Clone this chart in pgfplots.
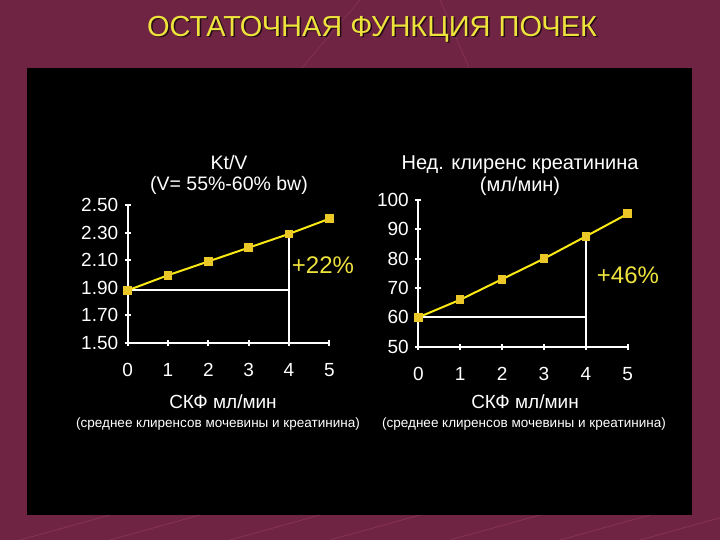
\documentclass[border=0pt]{standalone}
\usepackage{pgfplots}
\pgfplotsset{compat=1.18}
\usepackage{fontspec}
\setmainfont{Liberation Sans}

\definecolor{bgmaroon}{RGB}{112,36,68}
\definecolor{bgline}{RGB}{150,60,95}
\definecolor{lineyel}{RGB}{250,232,20}
\definecolor{markyel}{RGB}{235,200,40}
\definecolor{txtyel}{RGB}{238,226,60}

\pgfplotsset{
  kidney/.style={
    scale only axis,
    axis lines=left,
    axis line style={white, line width=2pt, -},
    tick style={white, line width=2pt},
    major tick length=6pt,
    tick align=center,
    xmin=0, xmax=5,
    xtick={0,1,2,3,4,5},
    ticklabel style={white, font=\fontsize{19}{19}\selectfont},
    xticklabel style={yshift=-14pt},
    yticklabel style={xshift=-3pt},
    /pgf/number format/assume math mode=true,
    clip=false,
  },
  trend/.style={lineyel, line width=2pt, mark=square*, mark size=3.3pt,
    mark options={fill=markyel, draw=markyel}},
  refl/.style={white, line width=2pt, no marks},
}

\begin{document}
\begin{tikzpicture}[x=1pt,y=1pt]
\useasboundingbox (0,0) rectangle (720,540);
\begin{scope}
\clip (0,0) rectangle (720,540);
% background
\fill[bgmaroon] (0,0) rectangle (720,540);
\foreach \a in {20, 110, 230, 330, 450, 560, 640}
  \draw[bgline, line width=0.8pt, opacity=0.6] (\a,0) -- (\a+90,25);
\draw[bgline, line width=0.8pt, opacity=0.5] (300,470) -- (360,540);
\draw[bgline, line width=0.8pt, opacity=0.5] (470,470) -- (440,540);
\end{scope}
\fill[black] (27,25) rectangle (692,472);

% page title
\node[black!70!bgmaroon, font=\fontsize{29}{29}\selectfont] at (373.5,509.5) {ОСТАТОЧНАЯ ФУНКЦИЯ ПОЧЕК};
\node[txtyel, font=\fontsize{29}{29}\selectfont] at (372,511) {ОСТАТОЧНАЯ ФУНКЦИЯ ПОЧЕК};

% left: Kt/V
\begin{axis}[kidney,
  at={(127.7pt,197.3pt)}, anchor=south west,
  width=201.6pt, height=137.7pt,
  ymin=1.5, ymax=2.5,
  ytick={1.5,1.7,1.9,2.1,2.3,2.5},
  yticklabel style={/pgf/number format/.cd, fixed, fixed zerofill, precision=2},
]
\addplot[refl] coordinates {(0,1.88) (4,1.88)};
\addplot[refl] coordinates {(4,1.5) (4,2.29)};
\addplot[trend] coordinates {(0,1.88) (1,1.99) (2,2.09) (3,2.19) (4,2.29) (5,2.40)};
\end{axis}

% right: weekly creatinine clearance
\begin{axis}[kidney,
  at={(418.3pt,193.3pt)}, anchor=south west,
  width=209.4pt, height=146.7pt,
  ymin=50, ymax=100,
  ytick={50,60,70,80,90,100},
]
\addplot[refl] coordinates {(0,60) (4,60)};
\addplot[refl] coordinates {(4,50) (4,87.6)};
\addplot[trend] coordinates {(0,60) (1,66) (2,73) (3,80) (4,87.6) (5,95.3)};
\end{axis}

% chart titles
\node[white, font=\fontsize{19.5}{19.5}\selectfont] at (229,377) {Kt/V};
\node[white, font=\fontsize{19.5}{19.5}\selectfont] at (229,355) {(V= 55\%-60\% bw)};
\node[white, font=\fontsize{20}{20}\selectfont] at (520,375) {Нед. клиренс креатинина};
\node[white, font=\fontsize{20}{20}\selectfont] at (520,354) {(мл/мин)};

% increase labels
\node[txtyel, font=\fontsize{24}{24}\selectfont] at (323,275) {+22\%};
\node[txtyel, font=\fontsize{24}{24}\selectfont] at (628,265) {+46\%};

% x axis captions
\node[white, font=\fontsize{19}{19}\selectfont] at (223,138) {СКФ мл/мин};
\node[white, font=\fontsize{13.5}{13.5}\selectfont] at (218,116) {(среднее клиренсов мочевины и креатинина)};
\node[white, font=\fontsize{19}{19}\selectfont] at (525,138) {СКФ мл/мин};
\node[white, font=\fontsize{13.5}{13.5}\selectfont] at (524,116) {(среднее клиренсов мочевины и креатинина)};
\end{tikzpicture}
\end{document}
